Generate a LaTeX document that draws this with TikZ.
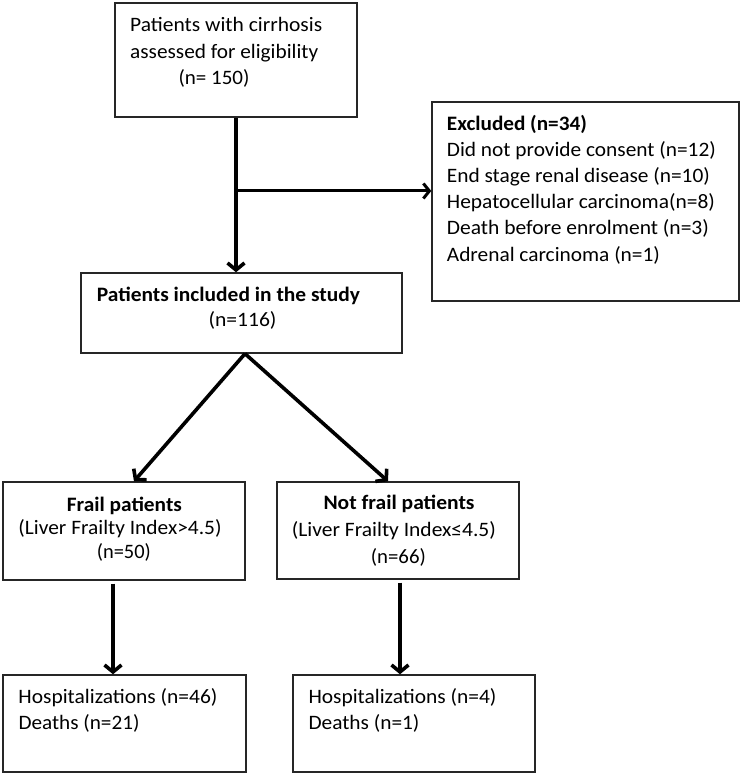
\documentclass[tikz,border=0pt]{standalone}
\usepackage{fontspec}
\usepackage{graphicx}
\setmainfont{Carlito}
\usetikzlibrary{arrows.meta,calc}
\newcommand{\fw}[2]{\resizebox{#1pt}{\height}{#2}}
\begin{document}
\begin{tikzpicture}[x=1pt,y=1pt,
  box/.style={draw=black!85,line width=1.4pt,rectangle,inner sep=0pt},
  txt/.style={inner sep=0pt,font=\fontsize{20.5}{24}\selectfont},
  lw/.style={txt,anchor=base west},
  conn/.style={line width=3.6pt,-{Straight Barb[length=7pt,width=17pt,line width=3.6pt]}},
  thinconn/.style={line width=3pt,-{Straight Barb[length=6pt,width=15pt,line width=3pt]}}]
\useasboundingbox (0,0) rectangle (742,776);
% boxes
\node[box,minimum width=242pt,minimum height=114pt] (b1) at (236,716) {};
\node[box,minimum width=307pt,minimum height=199pt] (ex) at (585.5,574.5) {};
\node[box,minimum width=321pt,minimum height=80pt] (b2) at (241.5,463) {};
\node[box,minimum width=242pt,minimum height=98pt] (fr) at (124,245) {};
\node[box,minimum width=242pt,minimum height=97pt] (nf) at (398,245.5) {};
\node[box,minimum width=243pt,minimum height=97pt] (h1) at (124.5,52.5) {};
\node[box,minimum width=242pt,minimum height=97pt] (h2) at (414,52.5) {};
% texts
\node[lw] (t11) at (130,744) {\fw{192}{Patients with cirrhosis}};
\node[lw] (t12) at (130,717.5) {\fw{188}{assessed for eligibility}};
\node[lw] (t13) at (178.3,691) {\fw{71}{(n= 150)}};
\node[lw] (e1) at (446.7,645.5) {\fw{140}{\bfseries Excluded (n=34)}};
\node[lw] (e2) at (446.7,619.3) {\fw{269}{Did not provide consent (n=12)}};
\node[lw] (e3) at (446.7,593) {\fw{263}{End stage renal disease (n=10)}};
\node[lw] (e4) at (446.7,567.5) {\fw{268}{Hepatocellular carcinoma(n=8)}};
\node[lw] (e5) at (446.7,541) {\fw{262}{Death before enrolment (n=3)}};
\node[lw] (e6) at (446.7,514.5) {\fw{213}{Adrenal carcinoma (n=1)}};
\node[lw] (t21) at (96.7,474.5) {\fw{263}{\bfseries Patients included in the study}};
\node[lw] (t22) at (208.3,449) {\fw{68}{(n=116)}};
\node[lw] (f1) at (66.7,264.3) {\fw{115}{\bfseries Frail patients}};
\node[lw] (f2) at (18.3,241) {\fw{203}{(Liver Frailty Index>4.5)}};
\node[lw] (f3) at (96.7,217.7) {\fw{54}{(n=50)}};
\node[lw] (n1) at (323.3,266) {\fw{151}{\bfseries Not frail patients}};
\node[lw] (n2) at (291.7,239.3) {\fw{204}{(Liver Frailty Index≤4.5)}};
\node[lw] (n3) at (370.7,212.7) {\fw{55}{(n=66)}};
\node[lw] (h11) at (18.3,72.7) {\fw{199}{Hospitalizations (n=46)}};
\node[lw] (h12) at (18.3,46) {\fw{121}{Deaths (n=21)}};
\node[lw] (h21) at (308.3,72.7) {\fw{188}{Hospitalizations (n=4)}};
\node[lw] (h22) at (308.3,46) {\fw{111}{Deaths (n=1)}};
% connectors
\draw[conn] (b1.south) -- (b1.south |- b2.north);
\coordinate (brs) at (236,585);
\draw[thinconn] (brs) -- (brs -| ex.west);
\coordinate (d0) at ([xshift=3.5pt]b2.south);
\draw[conn] (d0) -- ([xshift=10pt]fr.north);
\draw[conn] (d0) -- ([xshift=-10pt]nf.north);
\draw[conn,shorten <=3pt] ([xshift=-11pt]fr.south) -- ([xshift=-11pt]fr.south |- h1.north);
\draw[conn,shorten <=3pt] ([xshift=2pt]nf.south) -- ([xshift=2pt]nf.south |- h2.north);
\end{tikzpicture}
\end{document}
